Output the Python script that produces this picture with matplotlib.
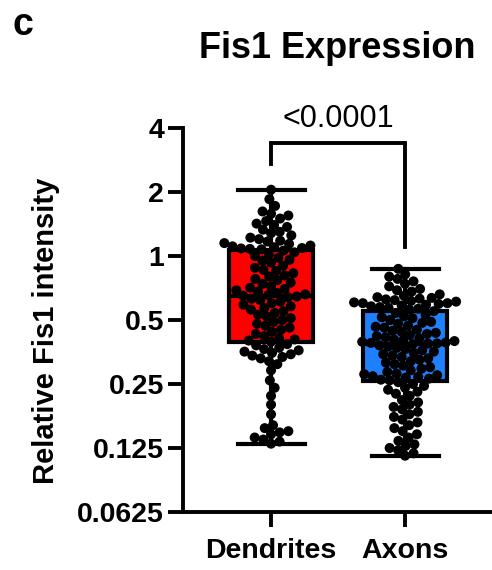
import numpy as np
import matplotlib
matplotlib.use("Agg")
import matplotlib.pyplot as plt
from matplotlib.ticker import NullLocator

plt.rcParams['font.family'] = ['Liberation Sans', 'DejaVu Sans']

# ---------------- data ----------------
groups = ["Dendrites", "Axons"]
colors = ["#FF0000", "#1F80FF"]

dendrites = [
    2.05, 1.85, 1.72, 1.62, 1.58, 1.55, 1.5, 1.46, 1.42, 1.4, 1.37, 1.33, 1.3, 1.28,
    1.25, 1.22, 1.2, 1.18, 1.17, 1.15, 1.14, 1.12, 1.11, 1.1, 1.09, 1.085, 1.08, 1.075,
    1.06, 1.04, 1.02, 1.0, 0.98, 0.96, 0.95, 0.93, 0.9, 0.88, 0.86, 0.85, 0.83, 0.81,
    0.8, 0.78, 0.77, 0.75, 0.74, 0.72, 0.71, 0.7, 0.69, 0.68, 0.67, 0.66, 0.655, 0.65,
    0.645, 0.64, 0.63, 0.62, 0.61, 0.6, 0.59, 0.58, 0.57, 0.56, 0.55, 0.54, 0.53, 0.52,
    0.51, 0.5, 0.49, 0.48, 0.47, 0.46, 0.45, 0.44, 0.43, 0.42, 0.41, 0.405, 0.4, 0.395,
    0.385, 0.38, 0.37, 0.365, 0.36, 0.355, 0.35, 0.345, 0.34, 0.335, 0.33, 0.32, 0.31,
    0.29, 0.26, 0.24, 0.22, 0.2, 0.18, 0.16, 0.155, 0.15, 0.148, 0.145, 0.14, 0.137,
    0.134, 0.131,
]

axons = [
    0.87, 0.82, 0.8, 0.78, 0.76, 0.74, 0.72, 0.7, 0.69, 0.68, 0.66, 0.65, 0.64, 0.635,
    0.63, 0.625, 0.62, 0.615, 0.61, 0.605, 0.6, 0.6, 0.595, 0.59, 0.585, 0.58, 0.575,
    0.57, 0.565, 0.56,
    0.55, 0.54, 0.53, 0.52, 0.515, 0.51, 0.5, 0.49, 0.485, 0.48, 0.47, 0.465, 0.46,
    0.45, 0.445, 0.44, 0.435, 0.43, 0.425, 0.42, 0.415, 0.41, 0.405, 0.4, 0.398, 0.395,
    0.392, 0.39, 0.388, 0.387,
    0.385, 0.38, 0.375, 0.37, 0.365, 0.36, 0.355, 0.35, 0.345, 0.34, 0.335, 0.33,
    0.325, 0.32, 0.315, 0.31, 0.305, 0.3, 0.295, 0.29, 0.285, 0.28, 0.278, 0.275,
    0.272, 0.27, 0.268, 0.265, 0.262, 0.26,
    0.255, 0.25, 0.245, 0.24, 0.235, 0.23, 0.225, 0.22, 0.21, 0.205, 0.2, 0.195, 0.19,
    0.185, 0.18, 0.175, 0.17, 0.165, 0.16, 0.155, 0.15, 0.145, 0.14, 0.135, 0.13,
    0.128, 0.125, 0.122, 0.118, 0.115,
]

yticks = [0.0625, 0.125, 0.25, 0.5, 1, 2, 4]
ytick_labels = ["0.0625", "0.125", "0.25", "0.5", "1", "2", "4"]
p_label = "<0.0001"

# ---------------- layout ----------------
W, H, DPI = 492, 570, 100
ax_left, ax_right, ax_top, ax_bottom = 183, 492, 128, 512
fig = plt.figure(figsize=(W / DPI, H / DPI), dpi=DPI)
ax = fig.add_axes([ax_left / W, 1 - ax_bottom / H, (ax_right - ax_left) / W,
                   (ax_bottom - ax_top) / H])

xlim = (-0.657, 1.649)
ylim = (0.0625, 4)
px_per_unit_x = (ax_right - ax_left) / (xlim[1] - xlim[0])
px_per_oct = (ax_bottom - ax_top) / np.log2(ylim[1] / ylim[0])


def swarm_offsets(vals, d):
    vals = np.asarray(vals, float)
    ys = np.log2(vals) * px_per_oct
    xs = np.zeros(len(vals))
    placed = []
    for i in np.argsort(vals):
        y = ys[i]
        near = [(px, py) for px, py in placed if abs(py - y) < d]
        cands = [0.0]
        for px, py in near:
            off = np.sqrt(d * d - (py - y) ** 2)
            cands += [px + off, px - off]
        cands.sort(key=abs)
        for c in cands:
            if all((c - px) ** 2 + (y - py) ** 2 >= d * d - 1e-6 for px, py in near):
                xs[i] = c
                break
        placed.append((xs[i], y))
    return xs / px_per_unit_x


data = [dendrites, axons]
positions = [0, 1]

LW = 3.0
bp = ax.boxplot(data, positions=positions, widths=0.63, whis=(0, 100),
                patch_artist=True, showfliers=False, zorder=1,
                boxprops=dict(edgecolor="black", linewidth=LW),
                medianprops=dict(color="black", linewidth=LW),
                whiskerprops=dict(color="black", linewidth=LW),
                capprops=dict(color="black", linewidth=LW),
                capwidths=0.5)
for patch, c in zip(bp["boxes"], colors):
    patch.set_facecolor(c)

for pos, vals in zip(positions, data):
    offs = swarm_offsets(vals, 8.8)
    ax.scatter(pos + offs, vals, s=52, color="black", edgecolors="none", zorder=3,
               clip_on=False)

ax.set_yscale("log", base=2)
ax.set_ylim(*ylim)
ax.set_xlim(*xlim)
ax.set_yticks(yticks)
ax.set_yticklabels(ytick_labels)
ax.yaxis.set_minor_locator(NullLocator())
ax.set_xticks(positions)
ax.set_xticklabels(groups)

for s in ["top", "right"]:
    ax.spines[s].set_visible(False)
for s in ["left", "bottom"]:
    ax.spines[s].set_linewidth(2.8)
ax.tick_params(axis="both", width=2.8, length=10.5, labelsize=20.5)
ax.tick_params(axis="y", pad=3)
ax.tick_params(axis="x", pad=8)
for lab in ax.get_xticklabels() + ax.get_yticklabels():
    lab.set_fontweight("bold")

ax.set_ylabel("Relative Fis1 intensity", fontsize=21, fontweight="bold")
ax.yaxis.set_label_coords((60 - ax_left) / (ax_right - ax_left),
                          (ax_bottom - 331) / (ax_bottom - ax_top))

# significance bracket
yb = 3.4
ax.plot([0, 0, 1, 1], [2.71, yb, yb, 1.1], color="black", lw=2.8, clip_on=False,
        solid_joinstyle="miter", zorder=4)
fig.text(338 / W, 1 - 127 / H, p_label, ha="center", va="baseline", fontsize=22)

fig.text(337.5 / W, 1 - 48 / H, "Fis1 Expression", ha="center", va="center",
         fontsize=26, fontweight="bold")
fig.text(13 / W, 1 - 35 / H, "c", ha="left", va="baseline", fontsize=27,
         fontweight="bold")

fig.savefig("out.png", dpi=DPI)
